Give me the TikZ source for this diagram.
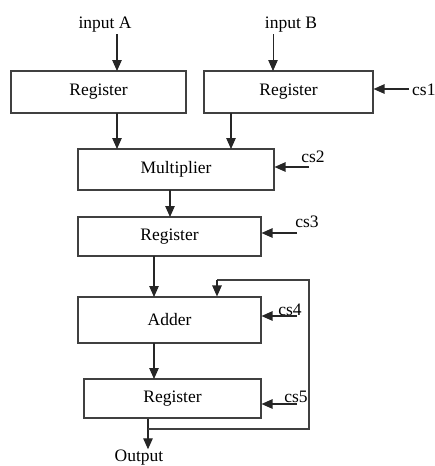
\documentclass[tikz,border=0pt]{standalone}
\usepackage{fontspec}
\setmainfont{Liberation Serif}
\usetikzlibrary{arrows.meta}
\begin{document}
\begin{tikzpicture}[x=1pt,y=-1pt,
  blk/.style={draw=black!75,line width=1.1pt,fill=white,inner sep=0pt,font=\fontsize{17.5}{19}\selectfont},
  lbl/.style={inner sep=0pt,font=\fontsize{17.5}{19}\selectfont},
  arr/.style={draw=black!85,line width=1.2pt,-{Triangle[length=11pt,width=9.5pt]}},
  fb/.style={draw=black!75,line width=1.2pt}]
\useasboundingbox (0,0) rectangle (435,466);
% boxes
\node[blk,minimum width=175pt,minimum height=42pt] (ra) at (98.5,92) {Register};
\node[blk,minimum width=169pt,minimum height=42pt] (rb) at (288.5,92) {Register};
\node[blk,minimum width=196pt,minimum height=41pt] (mul) at (176,169.5) {Multiplier};
\node[blk,minimum width=183pt,minimum height=39pt] (r3) at (169.5,236.5) {Register};
\node[blk,minimum width=183pt,minimum height=46pt] (add) at (169.5,320) {Adder};
\node[blk,minimum width=177pt,minimum height=39pt] (r5) at (172.5,398.5) {Register};
% labels
\node[lbl] (ia) at (105,25) {input A};
\node[lbl] (ib) at (291,25) {input B};
\node[lbl,anchor=west] (cs1) at (412,90) {cs1};
\node[lbl] (cs2) at (313,157) {cs2};
\node[lbl] (cs3) at (307,222) {cs3};
\node[lbl] (cs4) at (290,310) {cs4};
\node[lbl] (cs5) at (296,397) {cs5};
\node[lbl,anchor=south] (out) at (139,465) {Output};
% coordinates
\coordinate (ia0) at (117,34);
\coordinate (ib0) at (273,34);
\coordinate (c1) at (409,89);
\coordinate (c2) at (309,167);
\coordinate (c3) at (297,233);
\coordinate (c4) at (297,316);
\coordinate (c5) at (297,404);
\coordinate (fbtop) at (217,280);
\coordinate (fbr) at (309,280);
\coordinate (fbb) at (309,429);
\coordinate (fbl) at (148,429);
% arrows
\draw[arr] (ia0) -- (117,71);
\draw[arr,line width=0.8pt] (ib0) -- (273,71);
\draw[arr] (c1) -- (rb.east |- c1);
\draw[arr] (117,113) -- (117,149);
\draw[arr] (231,113) -- (231,149);
\draw[arr] (c2) -- (mul.east |- c2);
\draw[arr] (170,190) -- (170,217);
\draw[arr] (c3) -- (r3.east |- c3);
\draw[arr] (154,256) -- (154,297);
\draw[arr] (c4) -- (add.east |- c4);
\draw[arr] (154,343) -- (154,379);
\draw[arr] (c5) -- (r5.east |- c5);
\draw[arr] (r5.south -| fbl) -- (out.north -| fbl);
% feedback
\draw[fb] (fbl) -- (fbb) -- (fbr) -- (fbtop);
\draw[arr] (fbtop) -- (fbtop |- add.north);
\end{tikzpicture}
\end{document}
